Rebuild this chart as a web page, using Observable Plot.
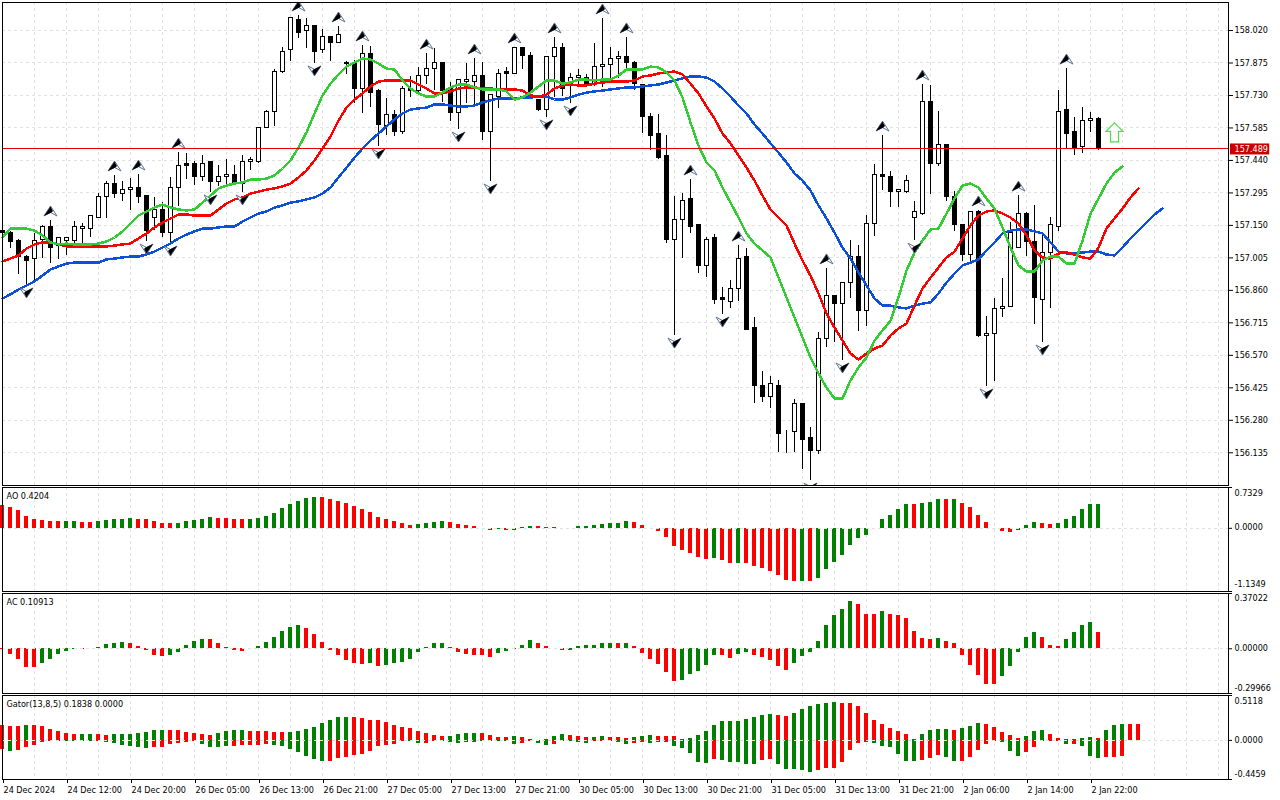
<!DOCTYPE html>
<html>
<head>
<meta charset="utf-8">
<script src="https://cdn.jsdelivr.net/npm/d3@7"></script>
<script src="https://cdn.jsdelivr.net/npm/@observablehq/plot@0.6"></script>
<style>
html,body{margin:0;padding:0;background:#fff;width:1280px;height:800px;overflow:hidden}
#chart{position:relative;width:1280px;height:800px}
#chart svg{position:absolute;left:0;overflow:visible;background:transparent}
</style>
</head>
<body>
<div id="chart"></div>
<script>
const opens=[157.127,157.118,157.082,157.011,157.002,157.087,157.141,157.056,157.082,157.082,157.132,157.132,157.185,157.279,157.333,157.292,157.310,157.315,157.283,157.185,157.217,157.118,157.319,157.422,157.422,157.364,157.431,157.342,157.368,157.373,157.337,157.431,157.435,157.587,157.654,157.837,157.935,158.069,158.016,158.038,157.931,157.989,157.966,157.873,157.873,157.761,157.917,157.748,157.592,157.645,157.569,157.761,157.752,157.815,157.850,157.877,157.757,157.650,157.792,157.788,157.815,157.569,157.725,157.833,157.828,157.944,157.904,157.708,157.663,157.900,157.944,157.792,157.806,157.810,157.783,157.855,157.868,157.891,157.900,157.877,157.775,157.636,157.556,157.458,157.087,157.176,157.266,157.150,156.971,157.092,156.824,156.810,156.864,157.007,156.690,156.435,156.382,156.435,156.226,156.226,156.355,156.199,156.141,156.641,156.837,156.797,156.891,157.007,156.766,157.158,157.373,157.364,157.297,157.301,157.185,157.199,157.703,157.426,157.511,157.279,157.154,157.016,157.208,156.658,156.667,156.775,156.788,157.047,157.203,157.074,156.819,157.025,157.141,157.663,157.565,157.498,157.618,157.627];
const closes=[157.114,157.078,157.007,156.993,157.082,157.141,157.051,157.092,157.092,157.141,157.141,157.190,157.279,157.333,157.292,157.306,157.319,157.279,157.127,157.217,157.118,157.319,157.417,157.413,157.364,157.426,157.342,157.368,157.373,157.337,157.431,157.444,157.587,157.654,157.837,157.926,158.074,158.011,158.042,157.926,157.989,157.962,157.998,157.871,157.761,157.913,157.739,157.600,157.645,157.569,157.757,157.748,157.815,157.850,157.877,157.752,157.650,157.797,157.797,157.815,157.569,157.734,157.828,157.828,157.944,157.908,157.743,157.667,157.900,157.944,157.761,157.806,157.815,157.783,157.855,157.868,157.891,157.900,157.873,157.783,157.632,157.551,157.453,157.087,157.172,157.261,157.145,156.971,157.087,156.819,156.819,156.864,157.002,156.685,156.431,156.382,156.440,156.221,156.226,156.355,156.194,156.141,156.641,156.833,156.797,156.891,157.007,156.766,157.158,157.373,157.364,157.297,157.306,157.346,157.212,157.699,157.426,157.511,157.279,157.150,157.016,157.208,156.658,156.667,156.775,156.788,157.118,157.203,157.074,156.824,157.025,157.150,157.658,157.560,157.493,157.618,157.627,157.489];
const highs=[157.132,157.123,157.087,157.016,157.114,157.150,157.172,157.092,157.096,157.167,157.158,157.190,157.292,157.346,157.373,157.346,157.359,157.377,157.283,157.275,157.252,157.364,157.475,157.471,157.435,157.462,157.431,157.417,157.444,157.417,157.462,157.453,157.587,157.663,157.846,157.944,158.074,158.087,158.074,158.042,158.025,157.989,158.038,157.882,157.886,157.953,157.949,157.757,157.717,157.663,157.770,157.815,157.855,157.917,157.940,157.877,157.788,157.801,157.873,157.895,157.877,157.734,157.846,157.855,157.944,157.944,157.922,157.712,157.900,157.989,157.962,157.828,157.846,157.824,157.962,158.074,157.944,157.926,157.989,157.882,157.779,157.650,157.645,157.551,157.279,157.292,157.355,157.150,157.096,157.109,156.873,156.904,157.060,157.047,156.739,156.498,156.475,156.458,156.234,156.373,156.355,156.248,156.672,156.958,156.837,156.891,157.082,157.060,157.194,157.422,157.551,157.391,157.306,157.373,157.257,157.779,157.775,157.658,157.511,157.301,157.154,157.208,157.217,156.743,156.824,156.913,157.163,157.283,157.208,157.239,157.118,157.185,157.752,157.850,157.632,157.676,157.654,157.632];
const lows=[157.109,157.047,156.931,156.882,156.895,157.002,156.980,156.998,157.016,157.069,157.069,157.096,157.181,157.181,157.270,157.257,157.217,157.248,157.078,157.127,157.096,157.069,157.234,157.355,157.328,157.346,157.297,157.324,157.328,157.333,157.297,157.395,157.426,157.583,157.592,157.828,157.882,157.984,157.940,157.873,157.917,157.882,157.962,157.824,157.694,157.650,157.676,157.502,157.551,157.547,157.556,157.721,157.734,157.779,157.752,157.699,157.614,157.578,157.694,157.685,157.529,157.346,157.672,157.761,157.828,157.846,157.712,157.658,157.632,157.721,157.725,157.694,157.766,157.783,157.770,157.766,157.806,157.806,157.850,157.752,157.560,157.484,157.444,157.069,156.658,157.002,157.114,156.935,156.917,156.797,156.752,156.779,156.810,156.685,156.355,156.359,156.333,156.136,156.132,156.136,156.060,156.011,156.127,156.605,156.627,156.547,156.824,156.676,156.699,157.100,157.306,157.230,157.230,157.292,157.082,157.194,157.288,157.413,157.257,157.123,156.989,156.980,156.650,156.431,156.453,156.739,156.788,157.047,157.011,156.708,156.627,156.779,157.123,157.489,157.462,157.471,157.565,157.484];
const jaw=[156.824,156.842,156.864,156.882,156.900,156.926,156.953,156.967,156.980,156.984,156.984,156.984,156.984,156.998,157.002,157.007,157.011,157.011,157.020,157.033,157.051,157.069,157.092,157.109,157.123,157.136,157.136,157.141,157.145,157.145,157.167,157.185,157.203,157.212,157.230,157.239,157.252,157.257,157.266,157.275,157.292,157.319,157.364,157.408,157.453,157.493,157.529,157.560,157.592,157.623,157.650,157.667,157.672,157.676,157.690,157.690,157.685,157.681,157.681,157.685,157.699,157.708,157.717,157.717,157.717,157.721,157.721,157.725,157.725,157.712,157.712,157.721,157.734,157.743,157.748,157.752,157.757,157.761,157.766,157.766,157.770,157.775,157.779,157.788,157.797,157.806,157.815,157.815,157.810,157.792,157.761,157.725,157.685,157.650,157.600,157.560,157.516,157.475,157.431,157.382,157.350,157.306,157.239,157.181,157.118,157.051,157.002,156.940,156.882,156.824,156.792,156.792,156.784,156.779,156.792,156.801,156.806,156.846,156.895,156.935,156.971,156.984,156.998,157.038,157.074,157.114,157.127,157.132,157.132,157.123,157.114,157.074,157.033,157.025,157.025,157.029,157.033,157.033,157.020,157.016,157.051,157.092,157.127,157.163,157.199,157.225];
const teeth=[156.989,157.002,157.016,157.047,157.065,157.074,157.074,157.065,157.056,157.056,157.056,157.056,157.056,157.056,157.060,157.065,157.069,157.092,157.114,157.141,157.163,157.181,157.199,157.199,157.194,157.194,157.194,157.221,157.248,157.266,157.275,157.292,157.301,157.310,157.315,157.324,157.337,157.364,157.395,157.440,157.493,157.547,157.618,157.676,157.712,157.739,157.770,157.792,157.797,157.797,157.797,157.797,157.779,157.761,157.739,157.739,157.748,157.761,157.766,157.766,157.761,157.761,157.757,157.757,157.757,157.752,157.730,157.725,157.734,157.761,157.775,157.779,157.775,157.775,157.783,157.788,157.792,157.792,157.792,157.797,157.815,157.819,157.828,157.833,157.837,157.824,157.783,157.739,157.681,157.627,157.560,157.516,157.462,157.408,157.350,157.283,157.221,157.185,157.150,157.069,156.993,156.926,156.846,156.757,156.694,156.636,156.578,156.551,156.578,156.600,156.614,156.658,156.690,156.712,156.792,156.868,156.917,156.962,157.007,157.033,157.092,157.150,157.194,157.212,157.217,157.203,157.185,157.158,157.105,157.038,157.007,157.002,157.025,157.029,157.020,157.007,157.002,157.051,157.136,157.181,157.225,157.275,157.315];
const lips=[157.096,157.136,157.136,157.136,157.127,157.105,157.074,157.065,157.069,157.065,157.065,157.065,157.069,157.078,157.096,157.123,157.158,157.194,157.212,157.230,157.243,157.230,157.221,157.217,157.221,157.252,157.283,157.315,157.328,157.337,157.342,157.355,157.355,157.359,157.373,157.404,157.440,157.498,157.565,157.650,157.730,157.783,157.824,157.859,157.877,157.895,157.891,157.873,157.850,157.846,157.797,157.761,157.739,157.725,157.725,157.743,157.766,157.779,157.779,157.766,157.757,157.757,157.757,157.748,157.712,157.721,157.743,157.770,157.797,157.797,157.783,157.788,157.801,157.801,157.797,157.801,157.801,157.819,157.846,157.846,157.846,157.859,157.855,157.833,157.797,157.721,157.609,157.507,157.431,157.395,157.319,157.252,157.185,157.114,157.069,157.038,157.007,156.917,156.828,156.739,156.650,156.560,156.489,156.426,156.377,156.377,156.458,156.516,156.560,156.636,156.681,156.725,156.828,156.949,157.029,157.082,157.132,157.136,157.203,157.270,157.328,157.337,157.319,157.270,157.225,157.141,157.051,156.971,156.944,156.944,156.993,157.011,157.011,156.980,156.980,157.082,157.203,157.270,157.337,157.386,157.413];
const fractalUp=[6,14,17,22,37,42,45,53,59,64,69,75,78,86,92,103,110,115,122,127,133];
const fractalDown=[3,18,21,26,30,39,47,57,61,68,71,84,90,101,105,114,123,130];
const signalBar=[139];
const signalPrice=[157.565];
const bidPrice=[157.489];

const priceTicks=[158.020,157.875,157.730,157.585,157.440,157.295,157.150,157.005,156.860,156.715,156.570,156.425,156.280,156.135];

const aoValues=[.401,.371,.311,.221,.167,.132,.114,.114,.114,.114,.096,.096,.114,.132,.150,.167,.185,.167,.150,.114,.078,.078,.078,.114,.132,.167,.203,.185,.185,.167,.150,.167,.185,.221,.257,.347,.419,.490,.544,.562,.562,.526,.490,.437,.383,.329,.275,.203,.150,.114,.078,.042,.060,.078,.096,.114,.096,.060,.042,.024,-.012,-.048,-.030,-.048,-.048,.012,.024,.024,.006,.006,.003,-.006,.024,.024,.042,.060,.078,.078,.114,.096,.042,-.006,-.066,-.173,-.335,-.407,-.460,-.532,-.568,-.550,-.586,-.640,-.640,-.640,-.694,-.730,-.783,-.855,-.945,-.963,-.963,-.963,-.909,-.748,-.622,-.496,-.317,-.191,-.138,-.006,.150,.239,.329,.419,.419,.437,.472,.526,.526,.526,.454,.365,.239,.096,-.012,-.066,-.084,-.048,.042,.096,.078,.060,.078,.150,.221,.329,.419,.4204];
const aoColors="rrrrrrrrgg"+"rrgggggrrr"+"rrgggggrrr"+"rggggggggg"+"rrrrrrrrrr"+"rrggggrrrr"+"rrgrgggrrr"+"rrgggggggr"+"rrrrrrrrrg"+"rrgrrrrrrr"+"grgggggggg"+"ggggrgggrg"+"rrrrrrrggg"+"rrgggggg";
const acValues=[-.007,-.038,-.071,-.125,-.125,-.098,-.071,-.038,-.018,-.004,-.002,.004,.009,.029,.036,.042,.036,.016,-.009,-.045,-.051,-.045,-.025,.022,.049,.063,.063,.036,.009,-.009,-.018,.002,.016,.042,.076,.116,.143,.156,.136,.096,.042,-.009,-.045,-.078,-.098,-.105,-.098,-.118,-.112,-.098,-.092,-.071,-.025,.007,.036,.036,.009,-.025,-.038,-.045,-.045,-.058,-.031,-.018,-.004,.022,.056,.036,.016,.002,-.009,-.011,.016,.022,.022,.036,.036,.036,.036,.016,-.031,-.071,-.105,-.159,-.219,-.212,-.172,-.152,-.112,-.045,-.045,-.065,-.038,-.025,-.045,-.058,-.078,-.118,-.145,-.098,-.051,-.025,.049,.156,.223,.263,.317,.297,.230,.230,.250,.230,.223,.203,.116,.069,.063,.069,.049,.036,-.045,-.112,-.179,-.239,-.239,-.185,-.118,-.025,.076,.109,.076,.022,.016,.063,.109,.156,.176,.10913];
const acColors="rrrrrggggg"+"rgggggrrrr"+"rgggggrrrr"+"rgggggggrr"+"rrrrrrgrgg"+"ggggggrrrr"+"rrgggggrrr"+"rggggggrgr"+"rrrrrggggg"+"rrggrrrrrg"+"gggggggrrr"+"grrrrrrgrr"+"rrrrrggggg"+"rrrggggr";
const gatorUp=[.172,.160,.160,.172,.172,.160,.126,.103,.080,.069,.069,.069,.069,.057,.069,.069,.069,.080,.092,.115,.115,.115,.115,.092,.080,.069,.057,.080,.103,.115,.115,.103,.103,.103,.092,.092,.092,.103,.126,.149,.195,.229,.264,.264,.264,.252,.229,.229,.206,.172,.149,.138,.103,.080,.057,.046,.046,.069,.080,.080,.080,.057,.034,.034,.046,.034,.011,.002,.011,.046,.069,.057,.046,.034,.034,.046,.034,.034,.023,.034,.046,.057,.046,.046,.046,.011,.023,.057,.103,.172,.218,.218,.218,.241,.264,.287,.298,.287,.275,.309,.355,.390,.413,.424,.435,.424,.424,.390,.309,.229,.183,.138,.103,.069,.011,.069,.115,.126,.126,.115,.138,.160,.195,.183,.149,.092,.057,.023,.046,.103,.115,.069,.023,.011,.011,.023,.034,.023,.115,.172,.183,.183,.1838];
const gatorUpColors="rrrgrrrrrr"+"ggrrgggggg"+"grrrrrrggg"+"grrrrrgggg"+"ggggrrrrrr"+"rrrrrrgggg"+"rrrrgrrrgg"+"grrrggrrrg"+"ggrrrrgggg"+"gggggggrrg"+"gggggrrrrr"+"rrrrrggggr"+"gggrrrrrgg"+"grrrrggrgg"+"grr";
const gatorDown=[-.103,-.126,-.115,-.080,-.057,-.023,-.011,-.008,-.011,-.011,-.008,-.011,-.011,-.023,-.034,-.057,-.069,-.080,-.092,-.080,-.080,-.046,-.034,-.023,-.011,-.046,-.080,-.080,-.069,-.069,-.057,-.057,-.057,-.046,-.057,-.069,-.103,-.138,-.183,-.218,-.241,-.241,-.206,-.195,-.172,-.160,-.126,-.069,-.057,-.046,-.011,-.011,-.034,-.034,-.011,-.008,-.023,-.034,-.023,-.023,-.011,-.008,-.011,-.011,-.046,-.034,-.008,-.034,-.057,-.046,-.011,-.011,-.023,-.034,-.011,-.008,-.011,-.023,-.046,-.034,-.019,-.034,-.023,-.023,-.069,-.092,-.149,-.252,-.264,-.218,-.229,-.252,-.252,-.275,-.275,-.229,-.218,-.275,-.332,-.332,-.344,-.367,-.344,-.321,-.321,-.252,-.115,-.034,-.023,-.034,-.069,-.080,-.160,-.241,-.241,-.229,-.206,-.172,-.195,-.241,-.241,-.195,-.115,-.046,-.011,-.023,-.126,-.183,-.138,-.080,-.011,-.008,-.011,-.046,-.046,-.069,-.183,-.206,-.195,-.195,-.183];
const gatorDownColors="rgrrrrrrgg"+"ggrggggggr"+"rrrrrggggr"+"rrrrgggggg"+"grrrrrrrrr"+"rggrrggggg"+"gggggrrggr"+"ggggrrrggr"+"rgrrgggggr"+"gggggrrggg"+"ggrrrrrrrg"+"gggggrrrgg"+"rrrrrgggrr"+"grrgrgggrrr";

const timeLabels=["24 Dec 2024","24 Dec 12:00","24 Dec 20:00","26 Dec 05:00","26 Dec 13:00","26 Dec 21:00","27 Dec 05:00","27 Dec 13:00","27 Dec 21:00","30 Dec 05:00","30 Dec 13:00","30 Dec 21:00","31 Dec 05:00","31 Dec 13:00","31 Dec 21:00","2 Jan 06:00","2 Jan 14:00","2 Jan 22:00"];
const timeTicks=timeLabels.map((_,k)=>k*8);
const gridBars=d3.range(4,153,4);

const FONT="'DejaVu Sans Condensed','DejaVu Sans',sans-serif";
const FSIZE=9;
const GRID="#e2e2e2";
const GREEN="#008000", RED="#ff0000";
const xScale={type:"linear",domain:[0,153.25],axis:null};
const chart=document.getElementById("chart");

function place(plot,top){plot.style.top=top+"px";chart.appendChild(plot);}
function base(h,mt,mb,domain,marks){
  return Plot.plot({width:1280,height:h,marginLeft:2,marginRight:52,marginTop:mt,marginBottom:mb,
    style:{fontFamily:FONT,fontSize:FSIZE+"px",color:"#000",background:"transparent",overflow:"visible"},
    x:xScale,y:{type:"linear",domain,axis:null},marks});
}
const vgrid=()=>Plot.ruleX(gridBars,{x:d=>d,stroke:GRID,strokeDasharray:"3,3",strokeWidth:1,shapeRendering:"crispEdges"});

// main price panel
const candles=opens.map((o,i)=>({i,o,c:closes[i],h:highs[i],l:lows[i],up:closes[i]>=o}));
const line=(arr,stroke)=>Plot.line(arr,{x:(d,i)=>i,y:d=>d,stroke,strokeWidth:2.5,curve:"linear",shapeRendering:"crispEdges"});
function dart(dir){ return {draw(ctx){ctx.moveTo(0,-5.5*dir);ctx.lineTo(6.5*dir,4.5*dir);ctx.lineTo(0,1*dir);ctx.lineTo(-6.5*dir,4.5*dir);ctx.closePath();}}; }
function dartHalf(dir){ return {draw(ctx){ctx.moveTo(0,-5*dir);ctx.lineTo(2.5*dir,-0.5*dir);ctx.lineTo(1*dir,1*dir);ctx.lineTo(-6.5*dir,4.5*dir);ctx.closePath();}}; }
const arrowSym={draw(ctx){ctx.moveTo(0,-9.5);ctx.lineTo(8.5,-1);ctx.lineTo(4,-1);ctx.lineTo(4,9.5);ctx.lineTo(-4,9.5);ctx.lineTo(-4,-1);ctx.lineTo(-8.5,-1);ctx.closePath();}};

const fracMark=(idx,vals,dy,dir)=>[
  Plot.dot(idx,{x:d=>d,y:d=>vals[d],dy,symbol:dart(dir),r:1,fill:"#fff",stroke:"#5a739c",strokeWidth:1,clip:"frame"}),
  Plot.dot(idx,{x:d=>d,y:d=>vals[d],dy,symbol:dartHalf(dir),r:1,fill:"#000",stroke:"none",clip:"frame"})
];

place(base(486,2,1,[155.989,158.145],[
  Plot.ruleY(priceTicks,{y:d=>d,stroke:GRID,strokeDasharray:"3,3",shapeRendering:"crispEdges"}),
  vgrid(),
  Plot.ruleX(candles,{x:"i",y1:"l",y2:"h",stroke:"#000",strokeWidth:1,shapeRendering:"crispEdges"}),
  Plot.rect(candles,{x1:d=>d.i-.25,x2:d=>d.i+.25,y1:d=>Math.min(d.o,d.c),y2:d=>Math.max(d.o,d.c),fill:d=>d.up?"#fff":"#000",stroke:"#000",strokeWidth:1,dx:.5,shapeRendering:"crispEdges"}),
  line(jaw,"#0a50d8"),
  line(teeth,"#ff0000"),
  line(lips,"#32cd32"),
  ...fracMark(fractalUp,highs,-9,1),
  ...fracMark(fractalDown,lows,7,-1),
  Plot.dot(signalBar,{x:d=>d,y:(d,i)=>signalPrice[i],symbol:arrowSym,r:1,fill:"#fff",stroke:"#4be04b",strokeWidth:1.2}),
  Plot.axisY(priceTicks,{anchor:"right",tickSize:4,tickPadding:2,tickFormat:d=>d.toFixed(3),fontSize:FSIZE,fontFamily:FONT,label:null}),
  Plot.ruleY(bidPrice,{y:d=>d,dy:-1,stroke:"#e00000",strokeWidth:1,shapeRendering:"crispEdges"}),
  Plot.rect(bidPrice,{x1:153.5,x2:158.4,y1:d=>d-.0245,y2:d=>d+.0245,fill:"#c80000",clip:false}),
  Plot.text(bidPrice,{x:153.25,y:d=>d,text:d=>d.toFixed(3),dx:6,textAnchor:"start",fill:"#fff",fontSize:FSIZE,fontFamily:FONT}),
  Plot.frame({stroke:"#000"})
]),0);

// lower panels
const bars=(vals,cols)=>vals.map((v,i)=>({i,v,col:cols[i]==="g"?GREEN:RED}));
const barMark=(d)=>Plot.rect(d,{x1:d=>d.i-.25,x2:d=>d.i+.25,y1:()=>0,y2:"v",fill:"col",shapeRendering:"crispEdges"});
const panelLabel=t=>Plot.text([t],{frameAnchor:"top-left",dx:4,dy:5,text:d=>d,fontSize:FSIZE,fontFamily:FONT,fill:"#000",lineAnchor:"top"});
function sideLabels(vals,labels,dys){
  const rows=vals.map((v,k)=>({v,label:labels[k],dy:dys[k]}));
  return [
    Plot.ruleY(vals,{y:d=>d,x1:153.25,x2:153.75,stroke:"#000"}),
    ...rows.map(r=>Plot.text([r],{x:153.25,y:"v",text:"label",dx:6,dy:r.dy,textAnchor:"start",fontSize:FSIZE,fontFamily:FONT,fill:"#000"}))
  ];
}

place(base(106,1,1,[-1.1349,.7329],[
  vgrid(),
  barMark(bars(aoValues,aoColors)),
  Plot.ruleY([0],{stroke:GRID,strokeDasharray:"3,3",shapeRendering:"crispEdges"}),
  panelLabel("AO 0.4204"),
  ...sideLabels([.7329,0,-1.1349],["0.7329","0.0000","-1.1349"],[6,-1,-7]),
  Plot.frame({stroke:"#000"})
]),486);

place(base(102,1,1,[-.29966,.37022],[
  vgrid(),
  barMark(bars(acValues,acColors)),
  Plot.ruleY([0],{stroke:GRID,strokeDasharray:"3,3",shapeRendering:"crispEdges"}),
  panelLabel("AC 0.10913"),
  ...sideLabels([.37022,0,-.29966],["0.37022","0.00000","-0.29966"],[5,-1,-5]),
  Plot.frame({stroke:"#000"})
]),592);

place(base(106,1,21,[-.4459,.5118],[
  vgrid(),
  barMark(bars(gatorUp,gatorUpColors)),
  barMark(bars(gatorDown,gatorDownColors)),
  Plot.ruleY([0],{stroke:GRID,strokeDasharray:"3,3",shapeRendering:"crispEdges"}),
  panelLabel("Gator(13,8,5) 0.1838 0.0000"),
  ...sideLabels([.5118,0,-.4459],["0.5118","0.0000","-0.4459"],[6,0,-5]),
  Plot.axisX(timeTicks,{anchor:"bottom",tickSize:4,tickPadding:3,tickFormat:d=>timeLabels[d/8],textAnchor:"start",dx:1,fontSize:FSIZE,fontFamily:FONT,label:null}),
  Plot.frame({stroke:"#000"})
]),694);
</script>
</body>
</html>
